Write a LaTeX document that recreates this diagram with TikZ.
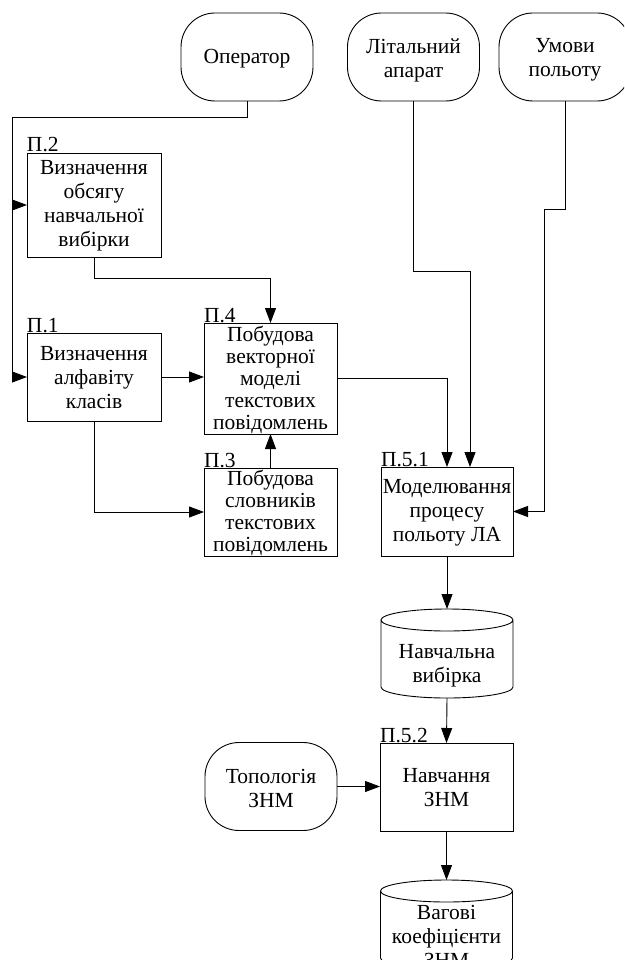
\documentclass[tikz,border=0pt]{standalone}
\usepackage{fontspec}
\setmainfont{Liberation Serif}
\newfontfamily\diagfont{Liberation Serif}
\usetikzlibrary{arrows.meta}
\begin{document}
\begin{tikzpicture}[x=1pt,y=-1pt,
  every node/.style={inner sep=0pt, outer sep=0pt},
  txt/.style={align=center, font=\diagfont\fontsize{21.5}{24}\selectfont},
  tighttxt/.style={align=center, font=\diagfont\fontsize{21.5}{22}\selectfont},
  lbl/.style={anchor=base west, font=\diagfont\fontsize{21.5}{24}\selectfont},
  term/.style={draw, line width=0.9pt, rounded corners=34pt, minimum width=132pt, minimum height=88pt},
  proc/.style={draw, line width=0.9pt, minimum width=134pt},
  cylbox/.style={minimum width=132pt, minimum height=89pt},
  conn/.style={line width=0.9pt},
  arr/.style={conn, -{Triangle[length=15pt,width=11pt]}}
]
\path[use as bounding box] (0,0) rectangle (624,960);
\clip (0,0) rectangle (624,960);

% terminators
\node[term] (op) at (247,57) {};
\node[txt] (opt) at (247,59) {Оператор};
\node[term] (la) at (413.5,57) {};
\node[txt] (lat) at (413.5,60) {Літальний\\апарат};
\node[term] (um) at (565,57) {};
\node[txt] (umt) at (565,60) {Умови\\польоту};
\node[term] (tp) at (271,786.5) {};
\node[txt] (tpt) at (271,788) {Топологія\\ЗНМ};

% processes
\node[proc, minimum height=104pt] (p2) at (94,205) {};
\node[txt] (p2t) at (94,206) {Визначення\\обсягу\\навчальної\\вибірки};
\node[lbl] (p2l) at ([yshift=1pt]p2.north west) {П.2};

\node[proc, minimum height=88pt] (p1) at (94,377) {};
\node[txt] (p1t) at (94,378) {Визначення\\алфавіту\\класів};
\node[lbl] (p1l) at ([yshift=1pt]p1.north west) {П.1};

\node[proc, minimum width=133pt, minimum height=111pt] (p4) at (270.5,378.5) {};
\node[tighttxt] (p4t) at (270.5,379.5) {Побудова\\векторної\\моделі\\текстових\\повідомлень};
\node[lbl] (p4l) at ([yshift=1pt]p4.north west) {П.4};

\node[proc, minimum width=133pt, minimum height=88pt] (p3) at (270.5,512) {};
\node[tighttxt] (p3t) at (270.5,513) {Побудова\\словників\\текстових\\повідомлень};
\node[lbl] (p3l) at ([yshift=1pt]p3.north west) {П.3};

\node[proc, minimum width=132pt, minimum height=89pt] (p51) at (447,511.5) {};
\node[txt] (p51t) at (447,512.5) {Моделювання\\процесу\\польоту ЛА};
\node[lbl] (p51l) at ([yshift=1pt]p51.north west) {П.5.1};

\node[proc, minimum width=133pt, minimum height=88pt] (p52) at (446.5,787) {};
\node[txt] (p52t) at (446.5,788) {Навчання\\ЗНМ};
\node[lbl] (p52l) at ([yshift=1pt]p52.north west) {П.5.2};

% data stores (cylinders)
\newcommand\drawcyl[1]{%
  \draw[conn] ([yshift=-11pt]#1.north west) -- ([yshift=11pt]#1.south west)
    arc[start angle=180, end angle=360, x radius=66pt, y radius=11pt]
    -- ([yshift=-11pt]#1.north east)
    arc[start angle=0, end angle=360, x radius=66pt, y radius=11pt];}
\node[cylbox] (nv) at (447,653.5) {};
\drawcyl{nv}
\node[txt] (nvt) at (447,666) {Навчальна\\вибірка};

\node[cylbox] (vk) at (446.5,924.5) {};
\drawcyl{vk}
\node[txt] (vkt) at (446.5,936) {Вагові\\коефіцієнти\\ЗНМ};

% connectors
\coordinate (j1) at (12,117);
\draw[arr] (op.south) |- (j1) |- (p1.west);
\draw[arr] (j1) |- (p2.west);
\draw[arr] (p2.south) -- ++(0,21) -| (p4.north);
\draw[arr] (p1.east) -- (p1.east -| p4.west);
\draw[arr] (p1.south) |- (p3.west);
\draw[arr] (p3.north) -- (p4.south);
\draw[arr] (p4.east) -| (p51.north);
\coordinate (c2) at (470,271);
\draw[arr] (la.south) |- (c2) -- ([xshift=23pt]p51.north);
\coordinate (c1) at (544,209);
\draw[arr] (um.south) |- (c1) |- (p51.east);
\draw[arr] (p51.south) -- (nv.north);
\draw[arr] (nv.south) -- (p52.north);
\draw[arr] (tp.east) -- (tp.east -| p52.west);
\draw[arr] (p52.south) -- (vk.north);
\end{tikzpicture}
\end{document}
